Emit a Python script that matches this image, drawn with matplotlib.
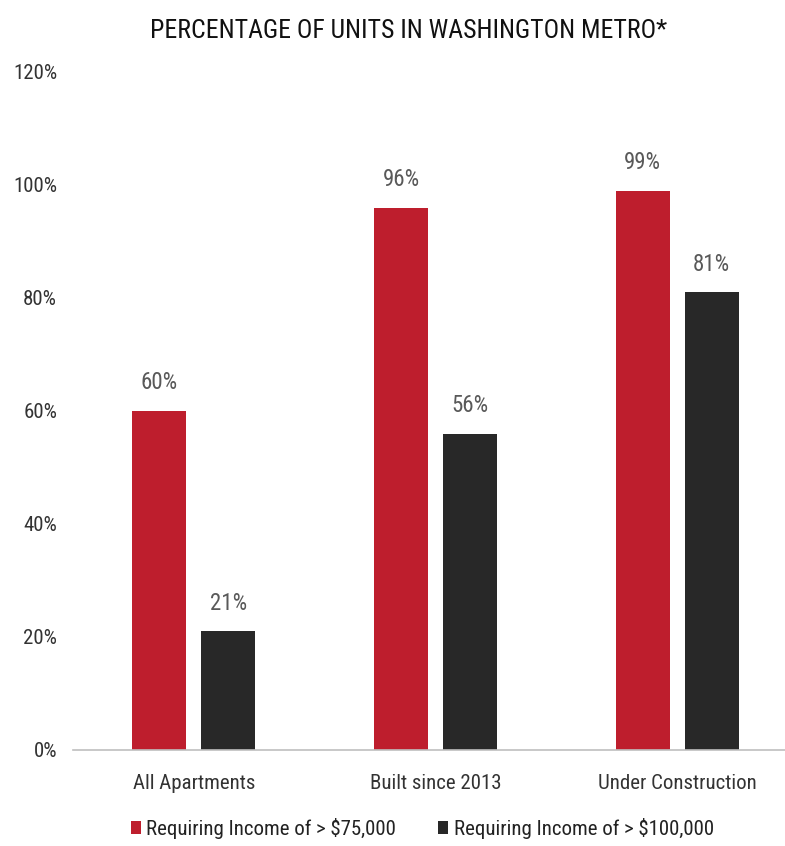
import matplotlib
matplotlib.use("Agg")
import matplotlib.pyplot as plt
import numpy as np
from matplotlib.ticker import FuncFormatter

categories = ["All Apartments", "Built since 2013", "Under Construction"]
over_75k = [60, 96, 99]
over_100k = [21, 56, 81]
series_names = ["Requiring Income of > $75,000", "Requiring Income of > $100,000"]
y_ticks = [0, 20, 40, 60, 80, 100, 120]

RED = "#BE1E2D"
DARK = "#282828"
LABEL_GREY = "#595959"

plt.rcParams["font.family"] = ["Roboto Condensed", "Archivo Narrow", "DejaVu Sans"]

fig = plt.figure(figsize=(7.85, 8.46), dpi=100)
# axes runs a little past the right edge, like the cropped original
ax = fig.add_axes([0.093, 0.1135, 0.9236, 0.8015])

x = np.arange(len(categories))
width = 0.223
offset = 0.143

bars_a = ax.bar(x - offset, over_75k, width, color=RED, label=series_names[0])
bars_b = ax.bar(x + offset, over_100k, width, color=DARK, label=series_names[1])

for bars in (bars_a, bars_b):
    ax.bar_label(bars, labels=[f"{v}%" for v in bars.datavalues], padding=12,
                 fontsize=16.5, color=LABEL_GREY)

ax.set_ylim(0, 120)
ax.set_xlim(-0.5, 2.5)
ax.set_yticks(y_ticks)
ax.yaxis.set_major_formatter(FuncFormatter(lambda v, _: f"{v:.0f}%"))
ax.set_xticks(x)
ax.set_xticklabels(categories)
ax.tick_params(axis="both", length=0, labelsize=15, colors="#333333")
ax.tick_params(axis="x", pad=17)
ax.tick_params(axis="y", pad=11.5)

for side in ("top", "right", "left"):
    ax.spines[side].set_visible(False)
ax.spines["bottom"].set_color("#BFBFBF")
ax.spines["bottom"].set_linewidth(1.2)

fig.text(0.521, 0.963, "PERCENTAGE OF UNITS IN WASHINGTON METRO*",
         ha="center", va="center", fontsize=18.5, color="#111111")

fig.legend(loc="center", bbox_to_anchor=(0.538, 0.021), ncol=2, frameon=False,
           fontsize=15, handlelength=0.5, handleheight=0.6, handletextpad=0.25,
           columnspacing=2.0, labelcolor="#222222")

fig.savefig("out.png", dpi=100)
